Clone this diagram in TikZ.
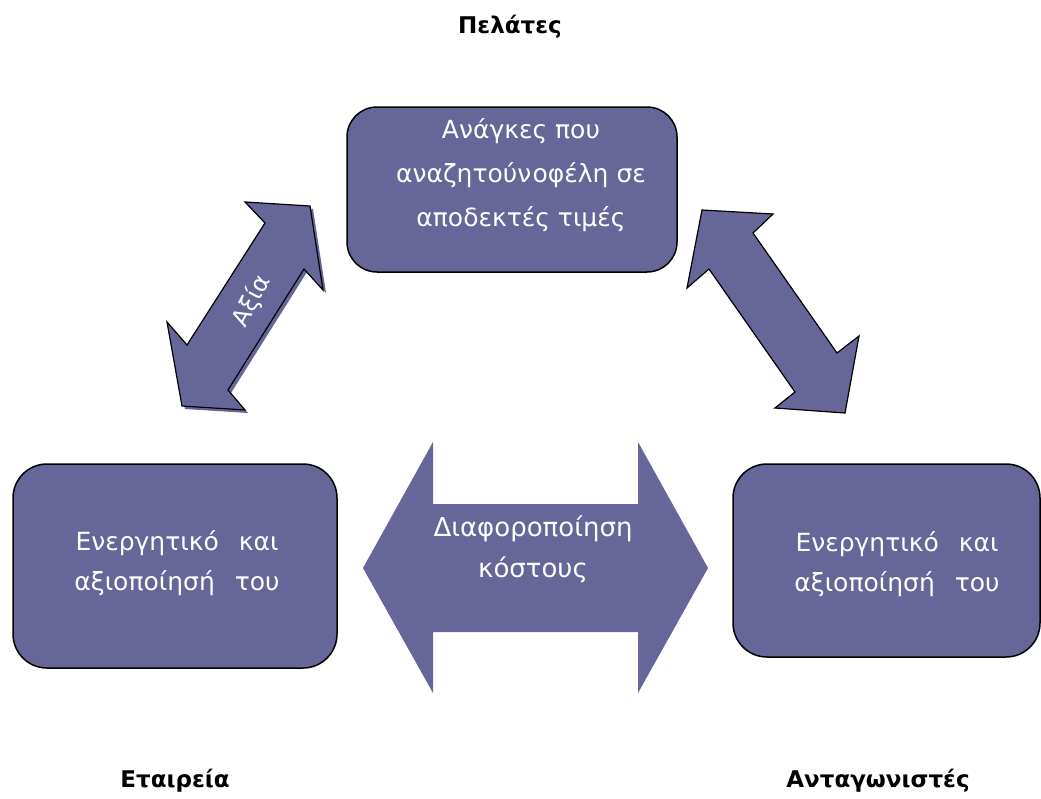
\documentclass[tikz,border=0pt]{standalone}
\usepackage{fontspec}
\setmainfont{DejaVu Sans}
\newfontfamily\labelfont{DejaVu Sans}
\definecolor{panelfill}{HTML}{666699}
\tikzset{
  panel/.style={draw=black, line width=1.5pt, fill=panelfill, rounded corners=30pt},
  paneltext/.style={text=white, align=center, inner sep=0pt},
  heading/.style={font=\labelfont\bfseries\fontsize{23}{28}\selectfont},
  blockarrow/.style={fill=panelfill, draw=black, line width=1.2pt, line join=miter},
}
\begin{document}
\begin{tikzpicture}[x=1pt,y=-1pt]
\useasboundingbox (0,0) rectangle (1041,798);

\node[heading] (customers) at (510,27) {Πελάτες};
\node[heading] (firm) at (175,781) {Εταιρεία};
\node[heading] (rivals) at (878,781) {Ανταγωνιστές};

\node[panel, minimum width=330pt, minimum height=165pt] (needs) at (512,189.5) {};
\node[paneltext, font=\fontsize{25}{44}\selectfont] (needstext) at (521,175.5)
  {Ανάγκες που\\αναζητούν\hspace{0.05em}οφέλη σε\\αποδεκτές τιμές};

\node[panel, minimum width=324pt, minimum height=204pt, rounded corners=34pt] (own) at (175,566) {};
\node[paneltext, font=\fontsize{25}{40}\selectfont] (owntext) at (177,563)
  {Ενεργητικό\hspace{0.8em}και\\αξιοποίησή\hspace{0.8em}του};

\node[panel, minimum width=307pt, minimum height=193pt, rounded corners=34pt] (other) at (886.5,560.5) {};
\node[paneltext, font=\fontsize{25}{40}\selectfont] (othertext) at (897,564)
  {Ενεργητικό\hspace{0.8em}και\\αξιοποίησή\hspace{0.8em}του};

\fill[panelfill] (363,568) -- (433,442) -- (433,504) -- (638,504) -- (638,442)
  -- (708,568) -- (638,693) -- (638,632) -- (433,632) -- (433,693) -- cycle;
\node[paneltext, font=\fontsize{26}{41}\selectfont] (cost) at (533,549)
  {Διαφοροποίηση\\κόστους};

\fill[panelfill, shift={(3,3)}] (310,206) -- (323,290) -- (304,269) -- (228,390)
  -- (245,410) -- (182,406) -- (167,322) -- (187,345) -- (265,223) -- (245,202) -- cycle;
\filldraw[blockarrow] (310,206) -- (323,290) -- (304,269) -- (228,390)
  -- (245,410) -- (182,406) -- (167,322) -- (187,345) -- (265,223) -- (245,202) -- cycle;
\node[paneltext, rotate=62, font=\fontsize{24}{30}\selectfont] (value) at (252,301) {Αξία};

\filldraw[blockarrow] (702,210) -- (773,214) -- (753,233) -- (837,353)
  -- (859,336) -- (845,413) -- (775,408) -- (795,392) -- (709,269) -- (687,288) -- cycle;

\end{tikzpicture}
\end{document}
